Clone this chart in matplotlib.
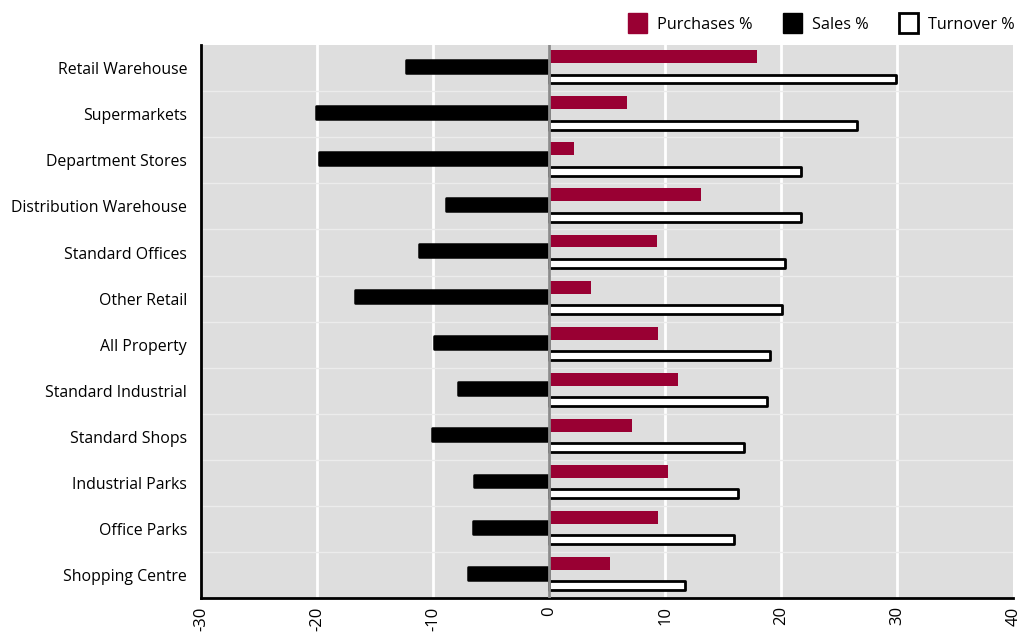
import matplotlib.pyplot as plt
import numpy as np
from matplotlib.patches import Patch

# данные (значения в %)
categories = ["Retail Warehouse", "Supermarkets", "Department Stores", "Distribution Warehouse",
              "Standard Offices", "Other Retail", "All Property", "Standard Industrial",
              "Standard Shops", "Industrial Parks", "Office Parks", "Shopping Centre"]
purchases = [17.9, 6.7, 2.1, 13.1, 9.3, 3.6, 9.4, 11.1, 7.1, 10.2, 9.4, 5.2]
sales = [-12.3, -20.1, -19.8, -8.9, -11.2, -16.7, -9.9, -7.9, -10.1, -6.5, -6.6, -7.0]
turnover = [29.9, 26.5, 21.7, 21.7, 20.3, 20.1, 19.0, 18.8, 16.8, 16.3, 15.9, 11.7]

plt.rcParams['font.family'] = ['Open Sans', 'DejaVu Sans']

crimson = "#990033"
bg = "#dedede"

fig = plt.figure(figsize=(10.18, 6.37), dpi=100)
ax = fig.add_axes([0.1975, 0.0612, 0.798, 0.8678])
ax.set_facecolor(bg)

y = np.arange(len(categories))

# вертикальная сетка и разделители категорий
for xv in range(-20, 40, 10):
    ax.axvline(xv, color="white", lw=2, zorder=1)
for yv in y[:-1] + 0.5:
    ax.axhline(yv, color="#ececec", lw=1, zorder=1)

ax.barh(y - 0.25, purchases, height=0.28, color=crimson, zorder=3)
ax.barh(y - 0.04, sales, height=0.28, color="black", edgecolor="black",
        linewidth=1.8, joinstyle="round", zorder=3)
ax.barh(y + 0.235, turnover, height=0.19, color="white", edgecolor="black",
        linewidth=2, joinstyle="round", zorder=3)

ax.axvline(0, color="#8c8c8c", lw=2, zorder=4)

ax.set_xlim(-30, 40)
ax.set_ylim(len(categories) - 0.5, -0.5)
ax.set_yticks(y)
ax.set_yticklabels(categories, fontsize=11.4)
ax.set_xticks(np.arange(-30, 41, 10))
ax.set_xticklabels([str(v) for v in range(-30, 41, 10)], rotation=90, fontsize=12)
ax.tick_params(axis="y", length=0, pad=10)
ax.tick_params(axis="x", length=0, pad=6)

for s in ["top", "right"]:
    ax.spines[s].set_visible(False)
for s in ["left", "bottom"]:
    ax.spines[s].set_linewidth(2)
    ax.spines[s].set_color("black")

handles = [Patch(facecolor=crimson, edgecolor=crimson, label="Purchases %"),
           Patch(facecolor="black", edgecolor="black", label="Sales %"),
           Patch(facecolor="white", edgecolor="black", linewidth=2, label="Turnover %")]
fig.legend(handles=handles, loc="upper right", bbox_to_anchor=(1.011, 1.002), ncol=3,
           frameon=False, fontsize=11.7, handlelength=1.2, handleheight=1.5,
           columnspacing=1.85, handletextpad=0.6)

fig.savefig("out.png", dpi=100)
